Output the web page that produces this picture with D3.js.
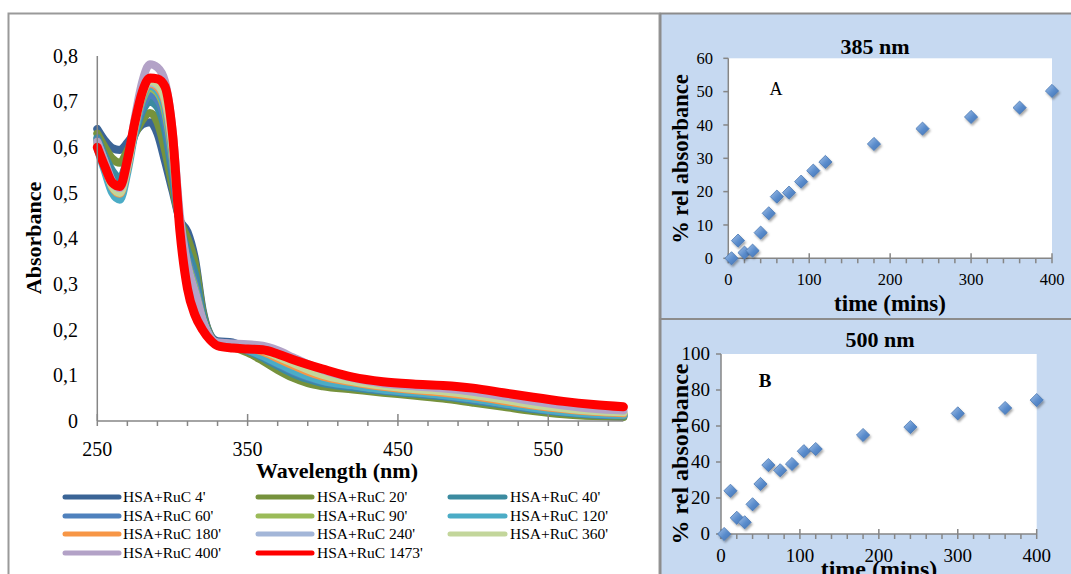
<!DOCTYPE html>
<html>
<head>
<meta charset="utf-8">
<script src="https://cdn.jsdelivr.net/npm/d3@7"></script>
<style>
  html, body { margin: 0; padding: 0; background: #ffffff; }
  svg { display: block; }
  text { font-family: "Liberation Serif", "DejaVu Serif", serif; fill: #000; }
</style>
</head>
<body>
<svg id="chart" width="1071" height="574"></svg>
<script>
// ---------- UV-Vis spectra of HSA + RuC over time ----------
const wavelengths = [250,255,260,265,270,275,280,285,290,295,300,305,310,315,320,325,
                     330,340,350,360,370,380,390,400,420,440,460,480,500,520,540,560,580,600];

const seriesNames = ["HSA+RuC 4'","HSA+RuC 20'","HSA+RuC 40'","HSA+RuC 60'","HSA+RuC 90'",
                     "HSA+RuC 120'","HSA+RuC 180'","HSA+RuC 240'","HSA+RuC 360'","HSA+RuC 400'","HSA+RuC 1473'"];
const seriesColors = ["#3a6496","#76923c","#3b8ba0","#4f81bd","#9bbb59",
                      "#4bacc6","#f79646","#a3b6d8","#c3d69b","#b3a2c7","#ff0000"];

const abs4 = [.640,.615,.598,.594,.610,.632,.650,.655,.630,.570,.505,.440,.415,.355,.245,.190,
              .175,.172,.155,.135,.116,.099,.087,.079,.071,.064,.058,.051,.042,.033,.024,.017,.012,.010];
const abs20 = [.630,.600,.575,.566,.592,.628,.660,.675,.655,.595,.515,.440,.400,.345,.240,.188,
               .168,.162,.150,.132,.112,.095,.083,.076,.069,.062,.056,.049,.040,.031,.022,.015,.011,.009];
const abs40 = [.620,.580,.548,.533,.572,.630,.680,.700,.688,.640,.540,.432,.372,.322,.232,.186,
               .168,.164,.154,.139,.121,.104,.092,.083,.074,.066,.060,.054,.045,.036,.026,.019,.014,.012];
const abs60 = [.615,.570,.525,.505,.560,.635,.690,.715,.705,.660,.560,.430,.355,.300,.225,.185,
               .168,.165,.156,.142,.125,.109,.096,.087,.077,.068,.062,.056,.047,.038,.028,.020,.015,.013];
const abs90 = [.612,.568,.520,.500,.555,.640,.705,.730,.720,.680,.580,.430,.345,.290,.222,.184,
               .169,.165,.157,.145,.129,.113,.100,.090,.079,.070,.064,.058,.050,.040,.030,.022,.017,.014];
const abs120 = [.598,.548,.500,.485,.545,.635,.710,.735,.725,.690,.590,.430,.340,.285,.220,.183,
                .168,.165,.156,.143,.127,.111,.098,.088,.078,.069,.063,.057,.049,.039,.029,.021,.016,.014];
const abs180 = [.605,.560,.512,.498,.555,.645,.715,.740,.732,.700,.600,.430,.335,.280,.220,.183,
                .170,.167,.161,.152,.137,.122,.108,.097,.085,.075,.068,.062,.054,.044,.034,.026,.020,.017];
const abs240 = [.608,.563,.515,.502,.560,.650,.720,.742,.736,.705,.605,.430,.335,.278,.220,.183,
                .171,.169,.165,.158,.146,.131,.117,.105,.090,.079,.072,.067,.059,.049,.039,.030,.024,.020];
const abs360 = [.607,.562,.514,.500,.558,.648,.718,.745,.738,.708,.608,.430,.335,.278,.220,.183,
                .171,.168,.163,.155,.141,.127,.113,.101,.087,.077,.070,.065,.057,.047,.036,.028,.022,.019];
const abs400 = [.612,.568,.525,.510,.565,.665,.745,.782,.775,.745,.640,.450,.340,.282,.222,.185,
                .172,.170,.168,.165,.155,.140,.125,.112,.094,.082,.076,.071,.064,.054,.043,.034,.027,.023];
const abs1473 = [.600,.558,.522,.514,.572,.655,.722,.752,.750,.733,.630,.415,.290,.232,.200,.178,
                 .165,.160,.158,.156,.147,.135,.124,.114,.096,.086,.081,.078,.072,.062,.052,.043,.036,.031];

const spectra = [abs4, abs20, abs40, abs60, abs90, abs120, abs180, abs240, abs360, abs400, abs1473];

const absTicks = [0, 0.1, 0.2, 0.3, 0.4, 0.5, 0.6, 0.7, 0.8];
const wlMajorTicks = [250, 350, 450, 550];

// ---------- kinetics: % relative absorbance vs time ----------
const timeA = [4, 12, 20, 30, 40, 50, 60, 75, 90, 105, 120, 180, 240, 300, 360, 400];
const relA  = [0, 5.3, 1.7, 2.3, 7.7, 13.5, 18.5, 19.7, 23.0, 26.3, 28.9, 34.3, 38.9, 42.4, 45.2, 50.2];
const timeB = [4, 12, 20, 30, 40, 50, 60, 75, 90, 105, 120, 180, 240, 300, 360, 400];
const relB  = [0, 24.0, 9.0, 6.5, 16.5, 27.8, 38.3, 35.4, 38.9, 46.0, 47.2, 55.0, 59.4, 67.0, 70.0, 74.4];
const ticksA = [0, 10, 20, 30, 40, 50, 60];
const ticksB = [0, 20, 40, 60, 80, 100];
const timeTicks = [0, 100, 200, 300, 400];

const svg = d3.select("#chart");
const AXIS = "#868686";

// ---------- panel frames ----------
svg.append("rect").attr("x", 0).attr("y", 0).attr("width", 1071).attr("height", 574).attr("fill", "#fff");
svg.append("rect").attr("x", 8.5).attr("y", 13.5).attr("width", 651).attr("height", 620)
  .attr("fill", "#fff").attr("stroke", "#9a9a9a").attr("stroke-width", 2);
svg.append("rect").attr("x", 660.5).attr("y", 13.5).attr("width", 420).attr("height", 305.5)
  .attr("fill", "#c6d9f1").attr("stroke", "#8c8c8c").attr("stroke-width", 2);
svg.append("rect").attr("x", 660.5).attr("y", 319).attr("width", 420).attr("height", 300)
  .attr("fill", "#c6d9f1").attr("stroke", "#8c8c8c").attr("stroke-width", 2);

// ---------- spectra panel ----------
const x = d3.scaleLinear().domain([250, 600]).range([97.3, 623.4]);
const y = d3.scaleLinear().domain([0, 0.8]).range([421, 56]);

const line = d3.line()
  .x((d, i) => x(wavelengths[i]))
  .y(d => y(d))
  .curve(d3.curveMonotoneX);

const gSpec = svg.append("g");
spectra.forEach((vals, k) => {
  gSpec.append("path")
    .attr("d", line(vals))
    .attr("fill", "none")
    .attr("stroke", seriesColors[k])
    .attr("stroke-width", k === 10 ? 9 : 8)
    .attr("stroke-linejoin", "round")
    .attr("stroke-linecap", "round");
});

// y axis (line only, no tick marks)
svg.append("line").attr("x1", x(250)).attr("x2", x(250)).attr("y1", y(0.8)).attr("y2", y(0))
  .attr("stroke", AXIS).attr("stroke-width", 1.5);
const fmtComma = v => v === 0 ? "0" : d3.format(".1f")(v).replace(".", ",");
svg.append("g").selectAll("text").data(absTicks).join("text")
  .attr("x", 78).attr("y", d => y(d)).attr("dy", "0.34em")
  .attr("text-anchor", "end").attr("font-size", 20)
  .text(fmtComma);

// x axis
svg.append("line").attr("x1", x(250)).attr("x2", x(600)).attr("y1", y(0)).attr("y2", y(0))
  .attr("stroke", AXIS).attr("stroke-width", 1.5);
svg.append("g").selectAll("line").data(d3.range(250, 601, 20)).join("line")
  .attr("x1", d => x(d)).attr("x2", d => x(d))
  .attr("y1", d => wlMajorTicks.includes(d) ? y(0) - 7 : y(0))
  .attr("y2", y(0) + 5)
  .attr("stroke", AXIS).attr("stroke-width", 1.5);
svg.append("g").selectAll("text").data(wlMajorTicks).join("text")
  .attr("x", d => x(d)).attr("y", 456)
  .attr("text-anchor", "middle").attr("font-size", 20)
  .text(d => d);

svg.append("text").attr("x", 337).attr("y", 478).attr("text-anchor", "middle")
  .attr("font-size", 22).attr("font-weight", "bold").text("Wavelength (nm)");
svg.append("text").attr("transform", "translate(33,238) rotate(-90)").attr("dy", "0.35em")
  .attr("text-anchor", "middle").attr("font-size", 22).attr("font-weight", "bold").text("Absorbance");

// legend
const legCols = [[65, 119, 123], [258, 312, 317], [450, 505, 510]];
const legRows = [497, 516, 534, 553];
const gLeg = svg.append("g");
seriesNames.forEach((name, k) => {
  const c = legCols[k % 3], r = legRows[Math.floor(k / 3)];
  gLeg.append("line").attr("x1", c[0]).attr("x2", c[1]).attr("y1", r).attr("y2", r)
    .attr("stroke", seriesColors[k]).attr("stroke-width", 5).attr("stroke-linecap", "round");
  gLeg.append("text").attr("x", c[2]).attr("y", r).attr("dy", "0.35em")
    .attr("font-size", 15.5).text(name);
});

// ---------- marker styling ----------
const defs = svg.append("defs");
const grad = defs.append("linearGradient").attr("id", "diamondFill")
  .attr("x1", "0").attr("y1", "0").attr("x2", "1").attr("y2", "1");
grad.append("stop").attr("offset", "0%").attr("stop-color", "#a6c3e8");
grad.append("stop").attr("offset", "55%").attr("stop-color", "#5a8ccc");
grad.append("stop").attr("offset", "100%").attr("stop-color", "#3f72b4");
const shadow = defs.append("filter").attr("id", "markShadow")
  .attr("x", "-50%").attr("y", "-50%").attr("width", "200%").attr("height", "200%");
shadow.append("feDropShadow").attr("dx", 1.2).attr("dy", 2).attr("stdDeviation", 1.2)
  .attr("flood-color", "#000").attr("flood-opacity", 0.35);

const diamond = "M0,-6.6L6.6,0L0,6.6L-6.6,0Z";

// ---------- kinetics panel builder ----------
function kineticsPanel(opt) {
  const g = svg.append("g");
  const xs = d3.scaleLinear().domain([0, 400]).range(opt.xr);
  const ys = d3.scaleLinear().domain([0, opt.ymax]).range(opt.yr);
  g.append("rect").attr("x", opt.xr[0]).attr("y", opt.yr[1])
    .attr("width", opt.xr[1] - opt.xr[0]).attr("height", opt.yr[0] - opt.yr[1]).attr("fill", "#fff");
  // y axis
  g.append("line").attr("x1", xs(0)).attr("x2", xs(0)).attr("y1", ys(0)).attr("y2", ys(opt.ymax))
    .attr("stroke", AXIS).attr("stroke-width", 1.5);
  g.selectAll(".yt").data(opt.yticks).join("line")
    .attr("x1", xs(0) - 5).attr("x2", xs(0)).attr("y1", d => ys(d)).attr("y2", d => ys(d))
    .attr("stroke", AXIS).attr("stroke-width", 1.5);
  g.selectAll(".yl").data(opt.yticks).join("text")
    .attr("x", opt.ylabX).attr("y", d => ys(d)).attr("dy", "0.34em")
    .attr("text-anchor", "end").attr("font-size", opt.fs).text(d => d);
  // x axis
  g.append("line").attr("x1", xs(0)).attr("x2", xs(400)).attr("y1", ys(0)).attr("y2", ys(0))
    .attr("stroke", AXIS).attr("stroke-width", 1.5);
  g.selectAll(".xt").data(d3.range(0, 401, 20)).join("line")
    .attr("x1", d => xs(d)).attr("x2", d => xs(d))
    .attr("y1", d => d % 100 === 0 ? ys(0) - 5 : ys(0))
    .attr("y2", ys(0) + 5)
    .attr("stroke", AXIS).attr("stroke-width", 1.5);
  g.selectAll(".xl").data(timeTicks).join("text")
    .attr("x", d => xs(d)).attr("y", opt.xlabY)
    .attr("text-anchor", "middle").attr("font-size", opt.fs).text(d => d);
  // titles
  g.append("text").attr("x", opt.titleX).attr("y", opt.titleY).attr("text-anchor", "middle")
    .attr("font-size", 22).attr("font-weight", "bold").text(opt.title);
  g.append("text").attr("x", opt.xtitleX).attr("y", opt.xtitleY).attr("text-anchor", "middle")
    .attr("font-size", opt.xtitleFs).attr("font-weight", "bold").text("time (mins)");
  g.append("text").attr("transform", `translate(680,${opt.ytitleY}) rotate(-90)`).attr("dy", "0.35em")
    .attr("text-anchor", "middle").attr("font-size", opt.ytitleFs).attr("font-weight", "bold")
    .text("% rel absorbance");
  g.append("text").attr("x", opt.tagX).attr("y", opt.tagY).attr("text-anchor", "middle")
    .attr("font-size", opt.tagFs).attr("font-weight", opt.tagWeight).text(opt.tag);
  // markers
  g.selectAll(".pt").data(opt.t).join("path")
    .attr("d", diamond)
    .attr("transform", (d, i) => `translate(${xs(d)},${ys(opt.v[i])})`)
    .attr("fill", "url(#diamondFill)")
    .attr("stroke", "#4a78b4").attr("stroke-width", 0.8)
    .attr("filter", "url(#markShadow)");
}

kineticsPanel({
  xr: [728.3, 1052], yr: [258.3, 58.3], ymax: 60, yticks: ticksA,
  t: timeA, v: relA, fs: 16.5, ylabX: 713, xlabY: 285,
  title: "385 nm", titleX: 875, titleY: 54,
  xtitleX: 890, xtitleY: 311, xtitleFs: 23,
  ytitleY: 159, ytitleFs: 22.5,
  tag: "A", tagX: 776, tagY: 95, tagFs: 18, tagWeight: "normal"
});

kineticsPanel({
  xr: [721, 1036.7], yr: [534, 354], ymax: 100, yticks: ticksB,
  t: timeB, v: relB, fs: 19, ylabX: 710, xlabY: 562,
  title: "500 nm", titleX: 880, titleY: 346.5,
  xtitleX: 879, xtitleY: 577, xtitleFs: 24,
  ytitleY: 454, ytitleFs: 24,
  tag: "B", tagX: 765, tagY: 387, tagFs: 19, tagWeight: "bold"
});
</script>
</body>
</html>
